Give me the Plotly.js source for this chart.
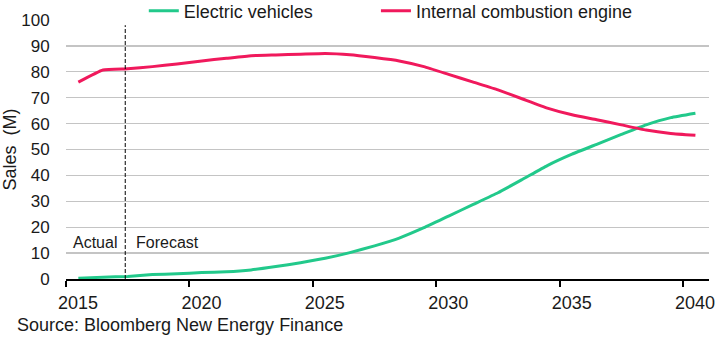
<!DOCTYPE html>
<html><head><meta charset="utf-8">
<script src="https://cdn.plot.ly/plotly-3.0.1.min.js"></script>
<style>html,body{margin:0;padding:0;background:#fff}#chart{width:720px;height:340px}</style>
</head><body><div id="chart"></div>
<script>
const years = [2015,2016,2017,2018,2019,2020,2021,2022,2023,2024,2025,2026,2027,2028,2029,2030,2031,2032,2033,2034,2035,2036,2037,2038,2039,2040];
const evSales = [0.3,0.7,1.0,1.7,2.0,2.5,2.8,3.5,4.8,6.3,8.0,10.2,12.8,15.8,19.8,24.3,28.8,33.3,38.5,43.8,48.2,52.0,55.8,59.5,62.3,64.0];
const iceSales = [76.0,80.7,81.2,82.0,83.0,84.2,85.2,86.2,86.5,86.8,87.1,86.6,85.5,84.2,82.0,79.0,76.0,73.0,69.5,66.0,63.4,61.5,59.5,57.5,56.2,55.5];
const xTickVals = [2014.5,2019.5,2024.5,2029.5,2034.5,2039.5];
const xTickText = ['2015','2020','2025','2030','2035','2040'];
const yTickVals = [0,10,20,30,40,50,60,70,80,90,100];
const seriesNames = ['Electric vehicles','Internal combustion engine'];
const forecastStart = 2016.9;
const sourceText = 'Source: Bloomberg New Energy Finance';

const FONT = '"Liberation Sans", Arial, sans-serif';
const TXT = '#1a1a1a';

const traces = [
  {x: years, y: evSales, name: seriesNames[0], type: 'scatter', mode: 'lines', legend: 'legend',
   line: {color: '#22c98b', width: 3, shape: 'spline', smoothing: 0.4}},
  {x: years, y: iceSales, name: seriesNames[1], type: 'scatter', mode: 'lines', legend: 'legend2',
   line: {color: '#f0195c', width: 3, shape: 'spline', smoothing: 0.4}}
];

const legendBase = {orientation: 'h', xanchor: 'left', y: 1.035, yanchor: 'middle',
  font: {family: FONT, size: 18, color: TXT}, bgcolor: 'rgba(0,0,0,0)', itemwidth: 30};

const layout = {
  width: 720, height: 340,
  margin: {l: 66, r: 11, t: 20, b: 61, autoexpand: false},
  paper_bgcolor: '#fff', plot_bgcolor: '#fff',
  font: {family: FONT, size: 17, color: TXT},
  showlegend: true,
  legend: Object.assign({}, legendBase, {x: 0.121}),
  legend2: Object.assign({}, legendBase, {x: 0.482}),
  xaxis: {range: [2014.5, 2040.55], tickvals: xTickVals, ticktext: xTickText,
          ticks: 'outside', ticklen: 6, tickwidth: 2, tickcolor: '#000',
          showline: true, linecolor: '#000', linewidth: 2, showgrid: false, zeroline: false,
          ticklabelshift: 12, tickfont: {family: FONT, size: 18, color: TXT}, fixedrange: true},
  yaxis: {range: [0, 100], tickvals: yTickVals, showgrid: true, gridcolor: '#c4c4c4', gridwidth: 1.3,
          zeroline: false, showline: false, ticks: 'outside', ticklen: 12, tickcolor: 'rgba(0,0,0,0)',
          tickfont: {family: FONT, size: 17, color: TXT},
          title: {text: 'Sales  (M)', font: {family: FONT, size: 18, color: TXT}, standoff: 0},
          automargin: false, fixedrange: true},
  shapes: [{type: 'line', xref: 'x', yref: 'y', x0: forecastStart, x1: forecastStart, y0: 0, y1: 98,
            line: {color: '#000', width: 1, dash: '4px,2px'}}],
  annotations: [
    {text: 'Actual', xref: 'x', yref: 'y', x: forecastStart, y: 14, xanchor: 'right', yanchor: 'middle',
     xshift: -6, showarrow: false, font: {family: FONT, size: 16, color: TXT}},
    {text: 'Forecast', xref: 'x', yref: 'y', x: forecastStart, y: 14, xanchor: 'left', yanchor: 'middle',
     xshift: 9, showarrow: false, font: {family: FONT, size: 16, color: TXT}},
    {text: sourceText, xref: 'paper', yref: 'paper', x: -0.079, y: -0.178, xanchor: 'left', yanchor: 'middle',
     showarrow: false, font: {family: FONT, size: 18, color: TXT}}
  ]
};

Plotly.newPlot('chart', traces, layout, {displayModeBar: false, staticPlot: true});
</script>
</body></html>
